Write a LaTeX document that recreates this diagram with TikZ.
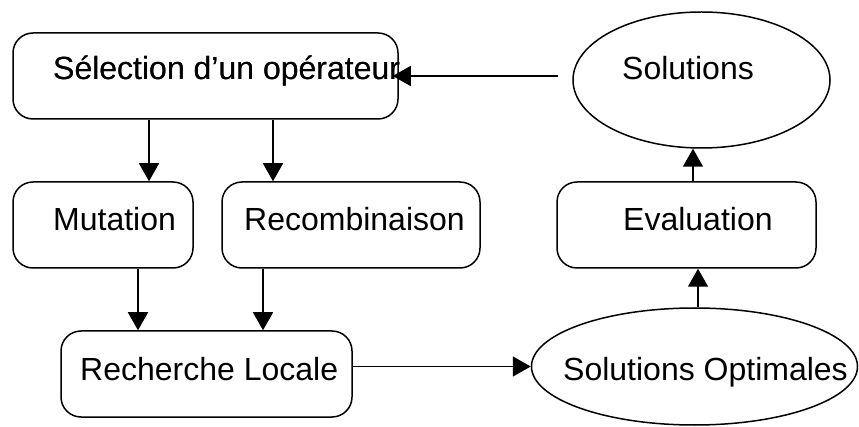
\documentclass[tikz,border=0pt]{standalone}
\usepackage{fontspec}
\setmainfont{Liberation Sans}
\usetikzlibrary{arrows.meta,shapes.geometric}
\tikzset{
  shp/.style={draw=black, line width=1.5pt, fill=white, inner sep=0pt},
  rbox/.style={shp, rectangle, rounded corners=20pt},
  ell/.style={shp, ellipse},
  txt/.style={anchor=base west, inner sep=0pt, font=\fontsize{32}{38}\selectfont},
  arr/.style={line width=1.6pt, -{Triangle[length=18pt,width=20pt]}}
}
\begin{document}
\begin{tikzpicture}[x=1pt,y=-1pt]
\useasboundingbox (0,0) rectangle (859,427);
% shapes
\node[rbox, minimum width=385pt, minimum height=86pt] (sel) at (205.5,76) {};
\node[rbox, minimum width=180pt, minimum height=86pt] (mut) at (103,225) {};
\node[rbox, minimum width=258pt, minimum height=86pt] (rec) at (351,225) {};
\node[rbox, minimum width=259pt, minimum height=86pt] (eva) at (686.5,225) {};
\node[rbox, minimum width=291pt, minimum height=86pt] (rl) at (206.5,374) {};
\node[ell, minimum width=257pt, minimum height=136pt] (sol) at (701.5,80) {};
\node[ell, minimum width=326pt, minimum height=117pt] (so) at (694.5,366.5) {};
% texts
\node[txt] (tsel) at (53,80) {Sélection d’un opérateur};
\node[txt] (tmut) at (53,231) {Mutation};
\node[txt] (trec) at (244,231) {Recombinaison};
\node[txt] (teva) at (623,231) {Evaluation};
\node[txt] (trl) at (80,381) {Recherche Locale};
\node[txt] (tsol) at (622,80) {Solutions};
\node[txt] (tso) at (563,380) {Solutions Optimales};
% x references
\coordinate (x1) at (149,0);
\coordinate (x2) at (273,0);
\coordinate (x3) at (138,0);
\coordinate (x4) at (263,0);
\coordinate (x5) at (698,0);
\coordinate (x6) at (693,0);
% connectors
\draw[arr, shorten <=14pt, shorten >=-6pt] (sol.west |- sel.east) -- (sel.east);
\draw[arr] (sel.south -| x1) -- (mut.north -| x1);
\draw[arr] (sel.south -| x2) -- (rec.north -| x2);
\draw[arr] (mut.south -| x3) -- (rl.north -| x3);
\draw[arr] (rec.south -| x4) -- (rl.north -| x4);
\draw[arr] (rl.east |- so.west) -- (so.west);
\draw[arr] (so.north -| x5) -- (eva.south -| x5);
\draw[arr] (eva.north -| x6) -- (sol.south -| x6);
% text over the arrow tip
\node[txt] at (53,80) {Sélection d’un opérateur};
\end{tikzpicture}
\end{document}
